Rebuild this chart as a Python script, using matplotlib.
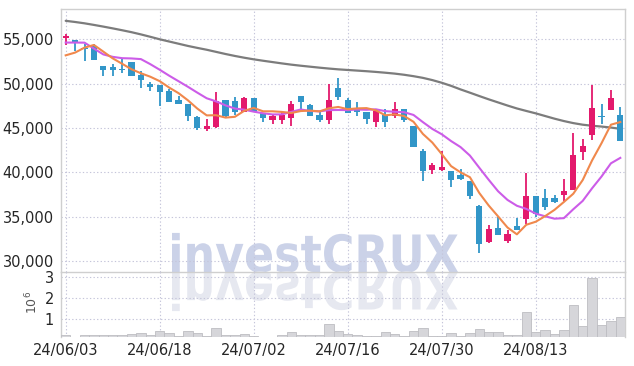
import numpy as np
import pandas as pd
import matplotlib
matplotlib.use("Agg")
import matplotlib.pyplot as plt
from matplotlib.textpath import TextPath
from matplotlib.patches import PathPatch
from matplotlib.font_manager import FontProperties
from matplotlib.transforms import Affine2D
from matplotlib.ticker import FixedLocator, FuncFormatter

# ---------------- data ----------------
x_labels = ["24/06/03", "24/06/18", "24/07/02", "24/07/16", "24/07/30", "24/08/13"]
x_label_idx = [0, 10, 20, 30, 40, 50]

open_ = [55100, 54900, 54050, 54250, 51950, 51850, 51600, 52450, 50950, 50000,
         49850, 49150, 48150, 47750, 46250, 44850, 45100, 48200, 48000, 46800,
         48350, 46700, 45900, 45950, 46100, 48550, 47600, 46500, 45900, 49550,
         48100, 47150, 46850, 45700, 46500, 46350, 47100, 45200, 42450, 40300,
         40250, 40200, 39750, 39000, 36150, 32100, 33750, 32300, 33950, 34700,
         37350, 37150, 37100, 37400, 38050, 42250, 44200, 46400, 47000, 46500]
high = [55550, 54900, 54450, 54450, 51950, 52250, 52850, 52450, 51400, 50150,
        49850, 49350, 48600, 47750, 46400, 46050, 49100, 48200, 48500, 48450,
        48350, 46700, 46500, 46900, 48000, 48550, 47750, 46950, 50000, 50650,
        48350, 47900, 46850, 46950, 47150, 47950, 47150, 45200, 42650, 41050,
        42450, 40200, 40400, 39000, 36350, 34100, 35000, 33450, 34900, 39900,
        37350, 38150, 37450, 39250, 44450, 43750, 49900, 47650, 49250, 47400]
low = [54300, 53700, 52550, 52650, 50850, 50850, 51150, 50850, 49550, 49150,
       47450, 47900, 47700, 45750, 44800, 44700, 45000, 46150, 46500, 46800,
       46800, 45650, 45500, 45400, 45250, 47100, 46350, 45650, 45450, 48200,
       46650, 46350, 45450, 45150, 45150, 46150, 45700, 42800, 39000, 39800,
       40200, 38350, 39150, 37000, 30950, 32050, 32950, 32050, 33500, 34200,
       35000, 35800, 36500, 36800, 38000, 41350, 43700, 45500, 47000, 43500]
close = [55350, 54550, 53950, 52650, 51550, 51550, 51500, 50850, 50400, 49600,
         49050, 47900, 47700, 46350, 44950, 45200, 48000, 46350, 46800, 48350,
         46800, 46100, 46350, 46450, 47750, 47900, 46350, 45900, 48200, 48500,
         46650, 46800, 46050, 46950, 45700, 47150, 45900, 42800, 40100, 40850,
         40650, 39100, 39300, 37350, 31950, 33600, 32950, 33050, 33500, 37350,
         35300, 36100, 36600, 37950, 42000, 43000, 47200, 46250, 48400, 43500]
# closes of the nine sessions before the window (needed for the moving averages)
prior_close = [54550, 54050, 59350, 58100, 54300, 53000, 51150, 51150, 55300]
# long moving average (gray line)
ma_long = [57080, 56950, 56800, 56620, 56430, 56230, 56020, 55800, 55550, 55280,
           55000, 54750, 54500, 54250, 54030, 53820, 53580, 53340, 53120, 52920,
           52740, 52580, 52430, 52280, 52140, 52020, 51910, 51800, 51700, 51610,
           51540, 51470, 51400, 51320, 51230, 51130, 51000, 50840, 50650, 50400,
           50100, 49750, 49350, 48980, 48600, 48230, 47880, 47530, 47200, 46920,
           46650, 46350, 46050, 45780, 45550, 45370, 45250, 45160, 45050, 44900]
volume = [245000, 160000, 230000, 230000, 230000, 230000, 230000, 290000, 330000, 245000,
          420000, 330000, 180000, 420000, 330000, 180000, 570000, 245000, 245000, 290000,
          180000, 165000, 165000, 245000, 375000, 245000, 245000, 245000, 760000, 440000,
          300000, 245000, 220000, 180000, 375000, 290000, 180000, 420000, 570000, 180000,
          180000, 330000, 180000, 330000, 520000, 375000, 375000, 245000, 245000, 1350000,
          390000, 470000, 290000, 470000, 1690000, 680000, 2950000, 730000, 920000, 1110000]

# ---------------- style ----------------
W, H = 634, 366
DPI = 100
UP = "#e3196c"
DOWN = "#3296c8"
GRID = "#c5c5da"
SPINE = "#cfcfcf"

fp_tick = FontProperties(family=["Liberation Sans Narrow", "DejaVu Sans"], size=10.5)
fp_wm = FontProperties(family=["DejaVu Sans"], weight="bold")

fig = plt.figure(figsize=(W / DPI, H / DPI), dpi=DPI)
fig.patch.set_facecolor("white")

def fx(px):
    return px / W

def fy(py):
    return 1 - py / H

L, R = 61, 625
T, MID, B = 9.3, 272.3, 337
ax = fig.add_axes([fx(L), fy(MID), fx(R - L), fy(T) - fy(MID)])
axv = fig.add_axes([fx(L), fy(B), fx(R - L), fy(MID) - fy(B)], sharex=ax)
for a in (ax, axv):
    a.set_facecolor("none")

n = len(close)
x = np.arange(n)
o = np.array(open_, float)
c = np.array(close, float)
h = np.array(high, float)
l = np.array(low, float)

ext = pd.Series(prior_close + close, dtype=float)
ma5 = ext.rolling(5).mean().to_numpy()[len(prior_close):]
ma10 = ext.rolling(10).mean().to_numpy()[len(prior_close):]

colors = np.where(c >= o, UP, DOWN)
ax.plot(x, ma_long, color="#7c7c7c", lw=1.6, zorder=2, solid_capstyle="round")
ax.vlines(x, l, h, colors=colors, lw=1.3, zorder=3)
body_bottom = np.minimum(o, c)
body_h = np.maximum(np.abs(c - o), 90)
ax.bar(x, body_h, bottom=body_bottom, width=0.66, color=colors, edgecolor="none", zorder=4)
ax.plot(x, ma10, color="#cc5ce8", lw=1.5, zorder=5)
ax.plot(x, ma5, color="#f0884c", lw=1.5, zorder=5)

ax.set_xlim(-0.5, n - 0.5)
ax.set_ylim(28730, 58380)
ax.yaxis.set_major_locator(FixedLocator([30000, 35000, 40000, 45000, 50000, 55000]))
ax.yaxis.set_major_formatter(FuncFormatter(lambda v, p: f"{int(v):,}"))

axv.bar(x, volume, width=1.0, color="#d6d6da", edgecolor="#bdbdc2", lw=0.6, zorder=3)
axv.set_ylim(150000, 3230000)
axv.yaxis.set_major_locator(FixedLocator([1e6, 2e6, 3e6]))
axv.yaxis.set_major_formatter(FuncFormatter(lambda v, p: f"{v / 1e6:.0f}"))
axv.xaxis.set_major_locator(FixedLocator(x_label_idx))
axv.set_xticklabels(x_labels)

for a in (ax, axv):
    a.grid(True, axis="both", color=GRID, linestyle=(0, (1.2, 2.0)), lw=0.8, zorder=1)
    a.tick_params(length=0, pad=5, labelcolor="#262626")
    for s in a.spines.values():
        s.set_color(SPINE)
        s.set_linewidth(1.0)
    for lab in a.get_yticklabels() + a.get_xticklabels():
        lab.set_fontproperties(fp_tick)
ax.xaxis.set_major_locator(FixedLocator(x_label_idx))
ax.tick_params(labelbottom=False)
axv.spines["bottom"].set_visible(False)
axv.spines["top"].set_visible(False)
axv.tick_params(axis="x", pad=4)

fig.text(fx(32), fy(302), r"$10^6$", rotation=90, ha="center", va="center",
         fontsize=9, color="#555555")

# watermark with reflection
tp = TextPath((0, 0), "investCRUX", size=100, prop=fp_wm)
cap = TextPath((0, 0), "X", size=100, prop=fp_wm).get_extents().ymax
bb = tp.get_extents()
sx = (458 - 172) / bb.width
sy = 37.5 / cap
base = H - 272
tr_up = Affine2D().translate(-bb.x0, 0).scale(sx, sy).translate(172, base)
tr_dn = Affine2D().translate(-bb.x0, 0).scale(sx, -sy).translate(172, base)
fig.add_artist(PathPatch(tr_up.transform_path(tp), facecolor="#cbd2e8", edgecolor="none",
                         transform=None, zorder=-5))
fig.add_artist(PathPatch(tr_dn.transform_path(tp), facecolor="#e6e8f0", edgecolor="none",
                         transform=None, zorder=-5))

fig.savefig("out.png", dpi=DPI, facecolor="white")
